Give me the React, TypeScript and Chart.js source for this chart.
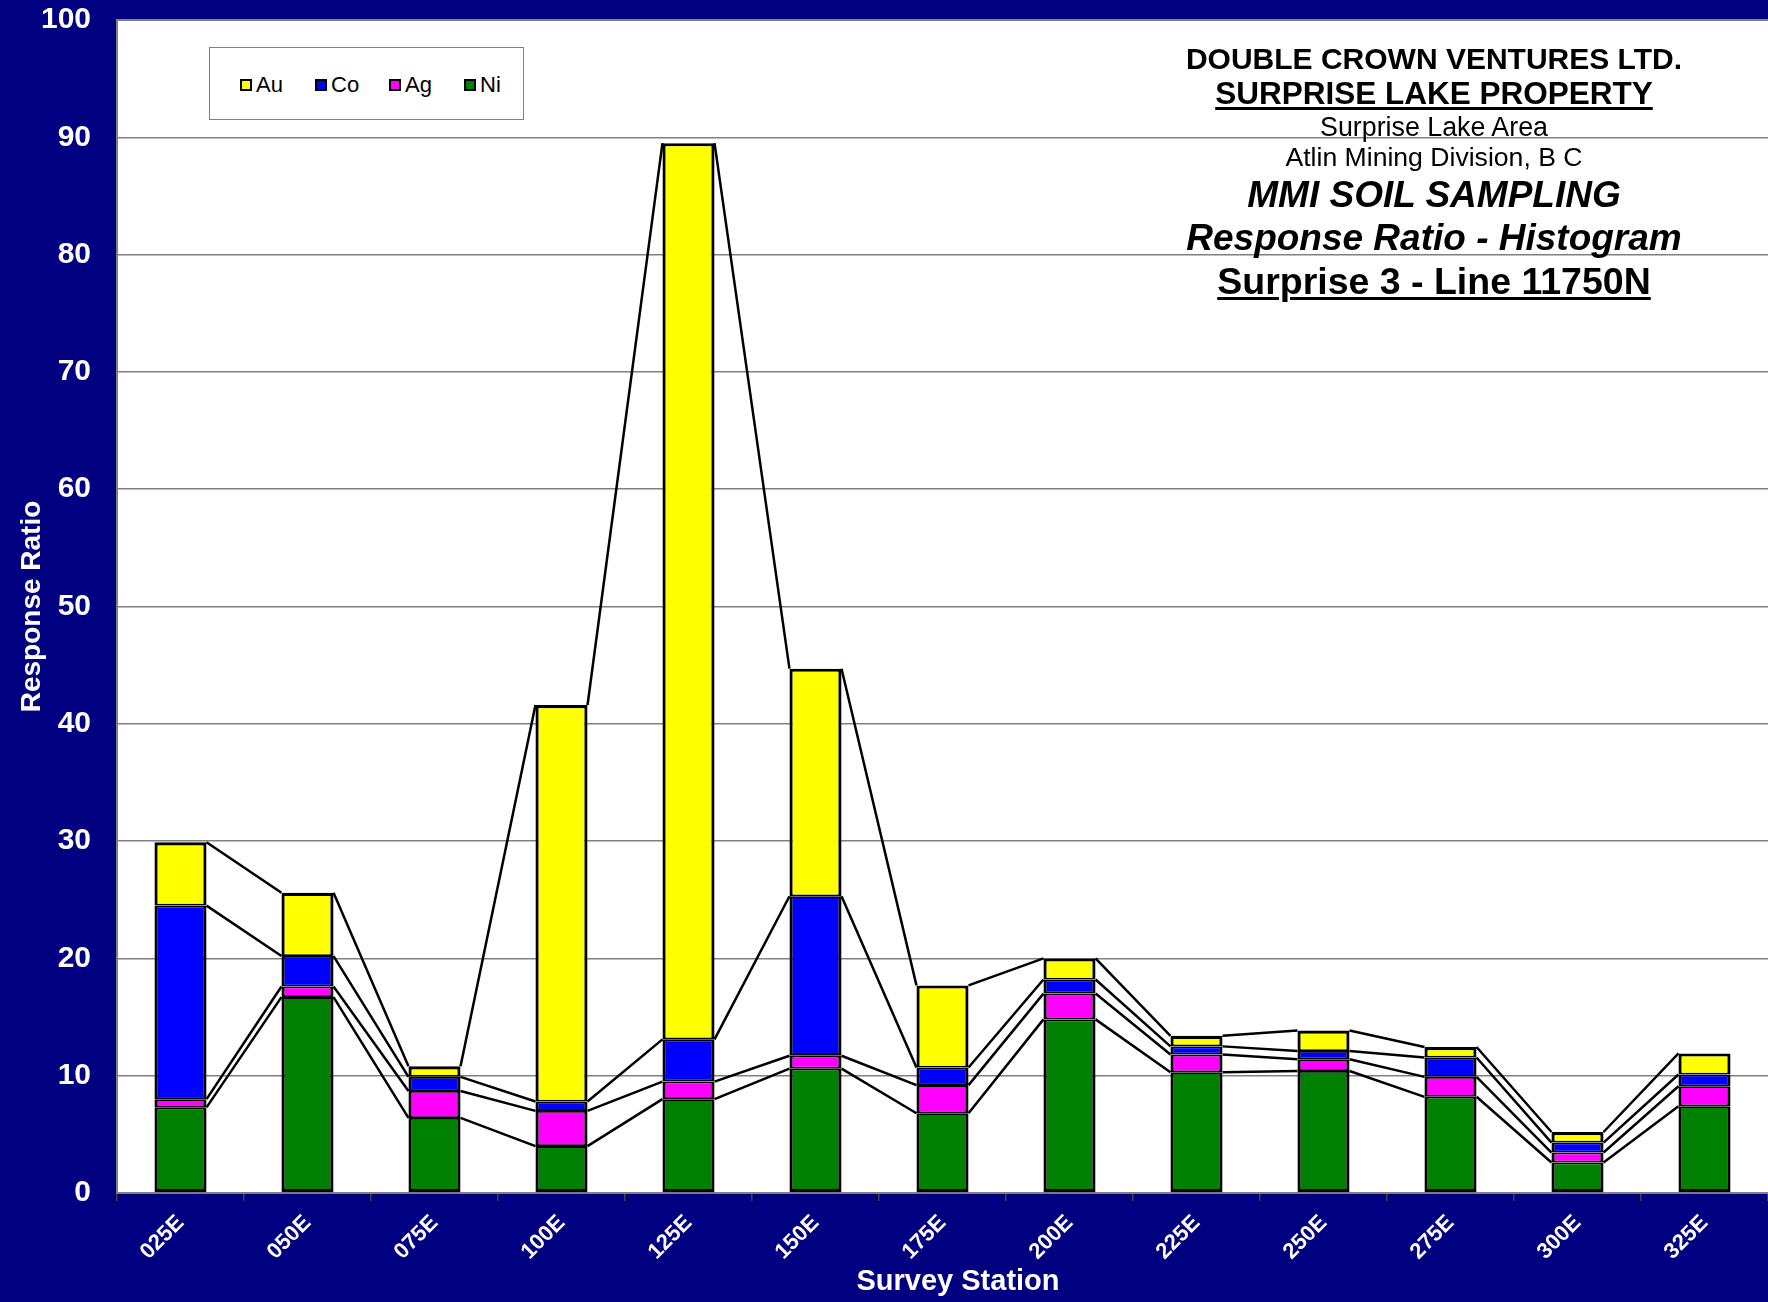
import React, { useEffect, useRef } from "react";
import { Chart, registerables } from "chart.js";

Chart.register(...registerables);

const stations = ["025E", "050E", "075E", "100E", "125E", "150E", "175E", "200E", "225E", "250E", "275E", "300E", "325E"];
const niValues = [7.3, 16.7, 6.4, 4.0, 8.0, 10.6, 6.8, 14.8, 10.3, 10.4, 8.2, 2.6, 7.4];
const agValues = [0.7, 0.9, 2.3, 3.0, 1.5, 1.1, 2.4, 2.2, 1.5, 1.0, 1.7, 0.85, 1.7];
const coValues = [16.5, 2.6, 1.2, 0.8, 3.6, 13.6, 1.5, 1.2, 0.7, 0.7, 1.65, 0.85, 1.0];
const auValues = [5.4, 5.4, 0.9, 33.8, 76.4, 19.4, 7.0, 1.8, 0.9, 1.75, 0.9, 0.9, 1.8];
const yTicks = [0, 10, 20, 30, 40, 50, 60, 70, 80, 90, 100];

const legendItems = [
  { label: "Au", color: "#FFFF00" },
  { label: "Co", color: "#0000FF" },
  { label: "Ag", color: "#FF00FF" },
  { label: "Ni", color: "#008000" },
];

const FONT = '"Liberation Sans", Arial, Helvetica, sans-serif';

const backgroundPlugin = {
  id: "bgPlot",
  beforeDraw(chart: any) {
    const { ctx, width, height, chartArea } = chart;
    ctx.save();
    ctx.fillStyle = "#000080";
    ctx.fillRect(0, 0, width, height);
    ctx.fillStyle = "#ffffff";
    ctx.fillRect(chartArea.left, chartArea.top, chartArea.right - chartArea.left, chartArea.bottom - chartArea.top);
    ctx.strokeStyle = "#808080";
    ctx.lineWidth = 2;
    ctx.beginPath();
    ctx.moveTo(chartArea.left, chartArea.bottom);
    ctx.lineTo(chartArea.left, chartArea.top);
    ctx.lineTo(chartArea.right, chartArea.top);
    ctx.stroke();
    ctx.restore();
  },
};

const seriesLinesPlugin = {
  id: "seriesLines",
  afterDatasetsDraw(chart: any) {
    const ctx = chart.ctx;
    ctx.save();
    ctx.strokeStyle = "#000000";
    ctx.lineWidth = 2.5;
    chart.data.datasets.forEach((_ds: any, di: number) => {
      const meta = chart.getDatasetMeta(di);
      const els = meta.data;
      ctx.beginPath();
      for (let i = 0; i < els.length - 1; i++) {
        const a = els[i].getProps(["x", "y", "width"], true);
        const b = els[i + 1].getProps(["x", "y", "width"], true);
        ctx.moveTo(a.x + a.width / 2, a.y);
        ctx.lineTo(b.x - b.width / 2, b.y);
      }
      ctx.stroke();
    });
    ctx.restore();
  },
};

const titleLines = [
  { text: "DOUBLE CROWN VENTURES LTD.", y: 58.6, size: 30, weight: "bold", italic: false, underline: false },
  { text: "SURPRISE LAKE PROPERTY", y: 93.6, size: 31.5, weight: "bold", italic: false, underline: true },
  { text: "Surprise Lake Area", y: 127, size: 26.8, weight: "normal", italic: false, underline: false },
  { text: "Atlin Mining Division, B C", y: 158, size: 26.6, weight: "normal", italic: false, underline: false },
  { text: "MMI SOIL SAMPLING", y: 195, size: 37, weight: "bold", italic: true, underline: false },
  { text: "Response Ratio - Histogram", y: 238, size: 37, weight: "bold", italic: true, underline: false },
  { text: "Surprise 3 - Line 11750N", y: 281, size: 37.5, weight: "bold", italic: false, underline: true },
];

export default function App() {
  const canvasRef = useRef<HTMLCanvasElement | null>(null);

  useEffect(() => {
    if (!canvasRef.current) return;
    const mk = (label: string, data: number[], color: string, top: number, bottom: number) => ({
      label,
      data,
      backgroundColor: color,
      borderColor: "#000000",
      borderWidth: { top, bottom, left: 3.2, right: 3.2 },
      borderSkipped: false as any,
      categoryPercentage: 1.0,
      barPercentage: 0.41,
    });
    const chart = new Chart(canvasRef.current, {
      type: "bar",
      data: {
        labels: stations,
        datasets: [
          mk("Ni", niValues, "#008000", 1.8, 3.2),
          mk("Ag", agValues, "#FF00FF", 1.8, 1.8),
          mk("Co", coValues, "#0000FF", 1.8, 1.8),
          mk("Au", auValues, "#FFFF00", 3.2, 1.8),
        ] as any,
      },
      options: {
        animation: false,
        responsive: true,
        maintainAspectRatio: false,
        layout: { padding: { top: 20, left: 0, right: 0, bottom: 0 } },
        plugins: {
          legend: { display: false },
          tooltip: { enabled: false },
        },
        scales: {
          x: {
            stacked: true,
            offset: true,
            afterFit: (scale: any) => {
              scale.height = 109;
              scale.paddingLeft = 0;
              scale.paddingRight = 0;
            },
            grid: {
              display: true,
              offset: true,
              drawOnChartArea: false,
              drawTicks: true,
              tickLength: 8,
              color: "#404040",
              lineWidth: 1.5,
            },
            border: { display: true, color: "#808080", width: 2 },
            ticks: {
              color: "#ffffff",
              font: { family: FONT, size: 22, weight: "bold" },
              maxRotation: 45,
              minRotation: 45,
              autoSkip: false,
              padding: 9,
            },
            title: { display: false },
          },
          y: {
            stacked: true,
            min: 0,
            max: 100,
            afterFit: (scale: any) => {
              scale.width = 117;
              scale.paddingTop = 0;
              scale.paddingBottom = 0;
            },
            afterBuildTicks: (scale: any) => {
              scale.ticks = yTicks.map((v) => ({ value: v }));
            },
            grid: {
              color: "#808080",
              lineWidth: 1.5,
              drawTicks: false,
            },
            border: { display: false },
            ticks: {
              color: "#ffffff",
              font: { family: FONT, size: 30, weight: "bold" },
              padding: 26,
            },
            title: {
              display: true,
              text: "Response Ratio",
              color: "#ffffff",
              font: { family: FONT, size: 28, weight: "bold" },
              padding: { top: 15, bottom: 0 },
            },
          },
        },
      },
      plugins: [backgroundPlugin, seriesLinesPlugin],
    });
    return () => chart.destroy();
  }, []);

  return (
    <div style={{ position: "absolute", left: 0, top: 0, width: 1768, height: 1302, background: "#000080", overflow: "hidden" }}>
      <canvas ref={canvasRef} />
      <div
        style={{
          position: "absolute",
          left: 209,
          top: 47,
          width: 315,
          height: 73,
          boxSizing: "border-box",
          border: "1.5px solid #808080",
          background: "#ffffff",
          pointerEvents: "none",
        }}
      />
      {legendItems.map((it, i) => {
        const sqX = [240, 315, 389, 464][i];
        return (
          <div key={it.label} style={{ position: "absolute", left: sqX, top: 72, height: 26, display: "flex", alignItems: "center", pointerEvents: "none" }}>
            <span style={{ display: "inline-block", width: 12, height: 12, boxSizing: "border-box", border: "2px solid #000", background: it.color, marginRight: 4 }} />
            <span style={{ fontFamily: FONT, fontSize: 22, color: "#000", lineHeight: "26px" }}>{it.label}</span>
          </div>
        );
      })}
      {titleLines.map((l) => (
        <div
          key={l.text}
          style={{
            position: "absolute",
            left: 1434 - 400,
            width: 800,
            top: l.y - l.size * 0.6,
            height: l.size * 1.2,
            lineHeight: `${l.size * 1.2}px`,
            textAlign: "center",
            fontFamily: FONT,
            fontSize: l.size,
            fontWeight: l.weight as any,
            fontStyle: l.italic ? "italic" : "normal",
            textDecoration: l.underline ? "underline" : "none",
            textDecorationThickness: l.underline ? 3 : undefined,
            textUnderlineOffset: l.underline ? 3 : undefined,
            color: "#000",
            whiteSpace: "nowrap",
            pointerEvents: "none",
          }}
        >
          {l.text}
        </div>
      ))}
      <div
        style={{
          position: "absolute",
          left: 958 - 200,
          width: 400,
          top: 1280 - 17,
          height: 34,
          lineHeight: "34px",
          textAlign: "center",
          fontFamily: FONT,
          fontSize: 29,
          fontWeight: "bold",
          color: "#ffffff",
          pointerEvents: "none",
        }}
      >
        Survey Station
      </div>
    </div>
  );
}
